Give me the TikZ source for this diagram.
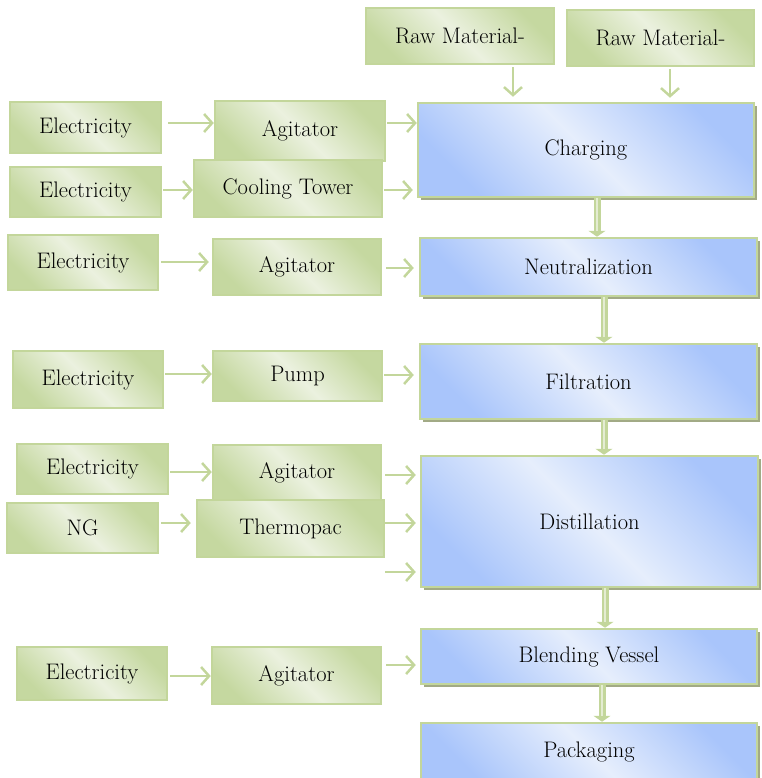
\documentclass[tikz,border=0pt]{standalone}
\usepackage{tikz}
\usetikzlibrary{positioning,arrows.meta,shadows,calc}
\definecolor{gline}{HTML}{C3D69B}
\definecolor{gdark}{HTML}{C5D8A0}
\definecolor{glite}{HTML}{EBF1DF}
\definecolor{gpale}{HTML}{E4ECD2}
\definecolor{bdark}{HTML}{A9C5FB}
\definecolor{blite}{HTML}{E6EEFC}
\definecolor{shade}{HTML}{A2AA86}
\tikzset{
  src/.style={draw=gline, line width=2.5pt, left color=gdark, right color=gdark, middle color=glite,
              shading angle=-45, font=\fontsize{22.5}{26}\selectfont, inner sep=2pt, align=center},
  proc/.style={draw=gline, line width=2.5pt, left color=bdark, right color=bdark, middle color=blite,
               shading angle=-45, font=\fontsize{22.5}{26}\selectfont, inner sep=2pt, align=center,
               drop shadow={shadow xshift=3pt, shadow yshift=-3pt, fill=shade, opacity=1}},
  flow/.style={draw=gline, line width=2.5pt, -{Straight Barb[length=8pt,width=18pt]}},
  feed/.style={draw=gline, line width=7pt, -{Triangle[length=6pt,width=17pt]},
               postaction={draw=gpale, line width=1.5pt, -, shorten >=6pt}},
}

\begin{document}
\begin{tikzpicture}[x=1pt, y=-1pt]
\useasboundingbox (0,0) rectangle (761,778);
  % Raw materials
  \node[src, minimum width=188pt, minimum height=56pt] (rawA) at (460,36) {Raw Material-};
  \node[src, minimum width=187pt, minimum height=56pt] (rawB) at (660.5,38) {Raw Material-};
  % Process column
  \node[proc, minimum width=336pt, minimum height=94pt] (charge) at (586,150) {Charging};
  \node[proc, minimum width=337pt, minimum height=58pt] (neut) at (588.5,267) {Neutralization};
  \node[proc, minimum width=337pt, minimum height=75pt] (filt) at (588.5,381.5) {Filtration};
  \node[proc, minimum width=337pt, minimum height=131pt] (dist) at (589.5,521.5) {Distillation};
  \node[proc, minimum width=336pt, minimum height=55pt] (blend) at (589,656.5) {Blending Vessel};
  \node[proc, minimum width=336pt, minimum height=57pt] (pack) at (589,751.5) {Packaging};
  % Charging utilities
  \node[src, minimum width=151pt, minimum height=51pt] (elecA) at (85.5,127.5) {Electricity};
  \node[src, minimum width=170pt, minimum height=60pt] (agitA) at (300,131) {Agitator};
  \node[src, minimum width=151pt, minimum height=50pt] (elecB) at (85.5,192) {Electricity};
  \node[src, minimum width=188pt, minimum height=57pt] (cool) at (288,188.5) {Cooling Tower};
  % Neutralization utilities
  \node[src, minimum width=150pt, minimum height=55pt] (elecC) at (83,262.5) {Electricity};
  \node[src, minimum width=168pt, minimum height=56pt] (agitB) at (297,267) {Agitator};
  % Filtration utilities
  \node[src, minimum width=150pt, minimum height=57pt] (elecD) at (88,379.5) {Electricity};
  \node[src, minimum width=169pt, minimum height=50pt] (pump) at (297.5,376) {Pump};
  % Distillation utilities
  \node[src, minimum width=151pt, minimum height=50pt] (elecE) at (92.5,469) {Electricity};
  \node[src, minimum width=168pt, minimum height=55pt] (agitC) at (297,472.5) {Agitator};
  \node[src, minimum width=151pt, minimum height=50pt] (ng) at (82.5,528) {NG};
  \node[src, minimum width=187pt, minimum height=57pt] (thermo) at (290.5,528.5) {Thermopac};
  \coordinate (spare) at (385,572);
  % Blending utilities
  \node[src, minimum width=150pt, minimum height=53pt] (elecF) at (92,673.5) {Electricity};
  \node[src, minimum width=169pt, minimum height=57pt] (agitD) at (296.5,675.5) {Agitator};
  % feeds into the process
  \draw[flow] ([xshift=53pt,yshift=-2pt]rawA.south) -- ([xshift=-73pt,yshift=5pt]charge.north);
  \draw[flow] ([xshift=9.5pt,yshift=-2pt]rawB.south) -- ([xshift=84pt,yshift=4pt]charge.north);
  \draw[flow] ([xshift=6pt,yshift=4.5pt]elecA.east) -- ([yshift=8pt]agitA.west);
  \draw[flow] ([xshift=1pt,yshift=8pt]agitA.east) -- ([yshift=27pt]charge.west);
  \draw[flow] ([xshift=1pt,yshift=2pt]elecB.east) -- ([yshift=-1.5pt]cool.west);
  \draw[flow] ([xshift=1pt,yshift=-1.5pt]cool.east) -- ([xshift=-4pt,yshift=-40pt]charge.west);
  \draw[flow] ([xshift=2pt,yshift=0.5pt]elecC.east) -- ([xshift=-3pt,yshift=5pt]agitB.west);
  \draw[flow] ([xshift=4pt,yshift=-1pt]agitB.east) -- ([xshift=-5pt,yshift=-1pt]neut.west);
  \draw[flow] ([xshift=1pt,yshift=5.5pt]elecD.east) -- ([yshift=2pt]pump.west);
  \draw[flow] ([xshift=1pt,yshift=1pt]pump.east) -- ([xshift=-5pt,yshift=6.5pt]filt.west);
  \draw[flow] ([xshift=1pt,yshift=-3pt]elecE.east) -- ([yshift=0.5pt]agitC.west);
  \draw[flow] ([xshift=3pt,yshift=-2.5pt]agitC.east) -- ([xshift=-4pt,yshift=46.5pt]dist.west);
  \draw[flow] ([xshift=2pt,yshift=5pt]ng.east) -- ([xshift=-5pt,yshift=5.5pt]thermo.west);
  \draw[flow] ([yshift=5.5pt]thermo.east) -- ([xshift=-4pt,yshift=-1.5pt]dist.west);
  \draw[flow] (spare) -- ([xshift=-4pt,yshift=-50.5pt]dist.west);
  \draw[flow] ([xshift=2pt,yshift=-2.5pt]elecF.east) -- ([yshift=-0.5pt]agitD.west);
  \draw[flow] ([xshift=4pt,yshift=10.5pt]agitD.east) -- ([xshift=-4pt,yshift=-8.5pt]blend.west);
  % process flow
  \draw[feed] ([xshift=11pt]charge.south) -- ([xshift=8.5pt]neut.north);
  \draw[feed] ([xshift=15.5pt]neut.south) -- ([xshift=15.5pt]filt.north);
  \draw[feed] ([xshift=15.5pt]filt.south) -- ([xshift=14.5pt]dist.north);
  \draw[feed] ([xshift=15.5pt]dist.south) -- ([xshift=16pt]blend.north);
  \draw[feed] ([xshift=13pt]blend.south) -- ([xshift=13pt]pack.north);
\end{tikzpicture}
\end{document}
